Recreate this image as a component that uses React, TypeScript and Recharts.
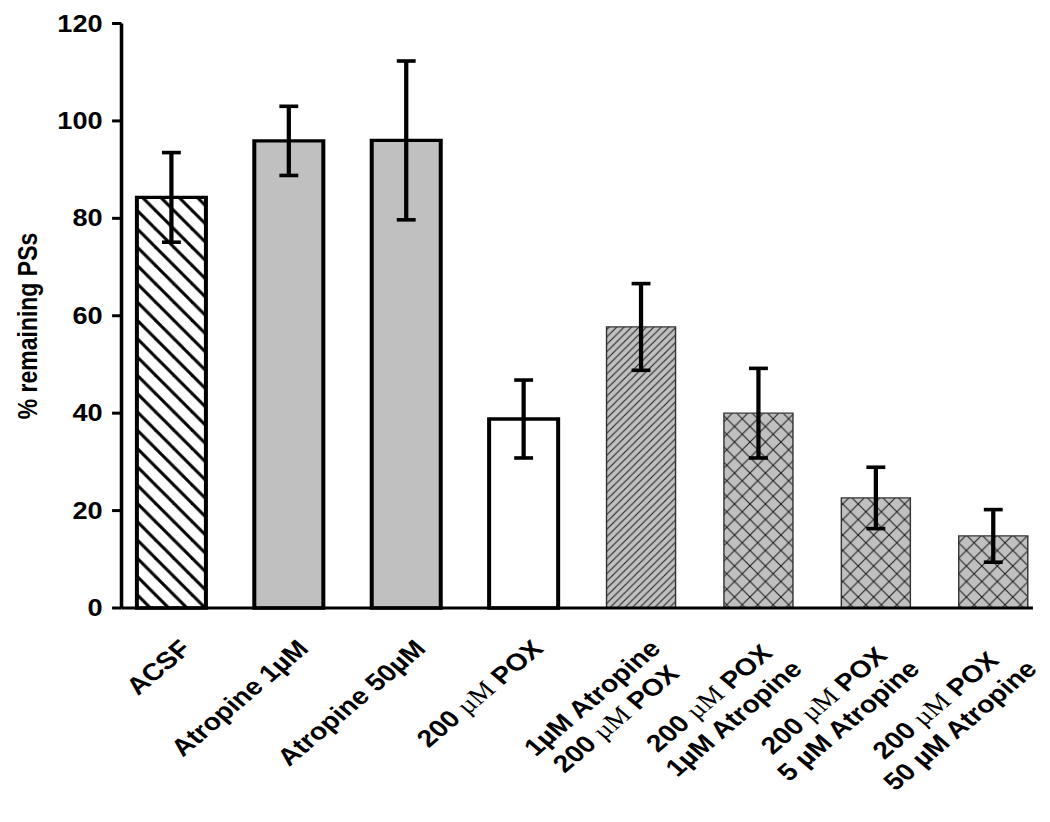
import React from 'react';
import { BarChart, Bar, XAxis, YAxis, ErrorBar, Cell } from 'recharts';

// ---- data ----
const categories: string[][] = [
  ['ACSF'],
  ['Atropine 1µM'],
  ['Atropine 50µM'],
  ['200 µM POX'],
  ['1µM Atropine', '200 µM POX'],
  ['200 µM POX', '1µM Atropine'],
  ['200 µM POX', '5 µM Atropine'],
  ['200 µM POX', '50 µM Atropine'],
];
const means = [84.3, 95.9, 96.0, 38.8, 57.7, 40.0, 22.6, 14.8];
const sems = [9.2, 7.1, 16.3, 8.0, 8.9, 9.2, 6.3, 5.4];
const yTicks = [0, 20, 40, 60, 80, 100, 120];
const xTicks = categories.map((_, i) => i);

const data = categories.map((c, i) => ({ x: i, mean: means[i], sem: sems[i] }));

// ---- styles ----
const SX = 1.18; // horizontal stretch of the original figure
const W = 880;
const H = 806;
const GRAY = '#c0c0c0';
const SANS = "'Liberation Sans', Arial, sans-serif";
const SERIF = "'Liberation Serif', 'Times New Roman', serif";
const FS = 23;
const FSX = 24;

const barStyles = [
  { fill: 'url(#hatchBack)', stroke: '#000', strokeWidth: 3.4 },
  { fill: GRAY, stroke: '#000', strokeWidth: 3.4 },
  { fill: GRAY, stroke: '#000', strokeWidth: 3.4 },
  { fill: '#fff', stroke: '#000', strokeWidth: 3.4 },
  { fill: 'url(#hatchFwd)', stroke: '#333', strokeWidth: 1.2 },
  { fill: 'url(#cross)', stroke: '#333', strokeWidth: 1.2 },
  { fill: 'url(#cross)', stroke: '#333', strokeWidth: 1.2 },
  { fill: 'url(#cross)', stroke: '#333', strokeWidth: 1.2 },
];

let ctx: CanvasRenderingContext2D | null = null;
function measure(s: string, font: string): number {
  if (!ctx && typeof document !== 'undefined') {
    ctx = document.createElement('canvas').getContext('2d');
  }
  if (!ctx) return s.length * FSX * 0.6;
  ctx.font = font;
  return ctx.measureText(s).width;
}

function splitLine(line: string) {
  // "200 µM" uses a symbol-like serif µM in the original
  if (line.startsWith('200 µM')) {
    return [
      { t: '200 ', serif: false },
      { t: 'µM', serif: true },
      { t: line.slice(6), serif: false },
    ];
  }
  return [{ t: line, serif: false }];
}

function lineWidth(line: string) {
  return splitLine(line).reduce(
    (acc, s) => acc + measure(s.t, s.serif ? `${FSX}px ${SERIF}` : `bold ${FSX}px ${SANS}`),
    0
  );
}

const XTick = (props: any) => {
  const { x, y, payload } = props;
  const lines = categories[payload.value] || [];
  const widths = lines.map(lineWidth);
  const wmax = Math.max(...widths);
  return (
    <g transform={`translate(${x},${y}) rotate(-45)`}>
      {lines.map((ln, i) => (
        <text
          key={i}
          x={-17.5 - (wmax - widths[i]) / 2}
          y={42 + 29 * i}
          textAnchor="end"
          fill="#000"
          fontSize={FSX}
          fontWeight="bold"
          fontFamily={SANS}
        >
          {splitLine(ln).map((s, k) =>
            s.serif ? (
              <tspan key={k} fontFamily={SERIF} fontWeight="normal">
                {s.t}
              </tspan>
            ) : (
              <tspan key={k}>{s.t}</tspan>
            )
          )}
        </text>
      ))}
    </g>
  );
};

const YLabel = () => (
  <text
    x={25}
    y={318}
    transform="rotate(-90 25 318)"
    textAnchor="middle"
    fill="#000"
    fontSize={FS}
    fontWeight="bold"
    fontFamily={SANS}
  >
    % remaining PSs
  </text>
);

export default function App() {
  return (
    <div style={{ width: W * SX, height: H }}>
      <div style={{ width: W, height: H, transform: `scaleX(${SX})`, transformOrigin: '0 0' }}>
        <BarChart
          width={W}
          height={H}
          data={data}
          margin={{ top: 15.5, right: 11.4, left: 0, bottom: 6 }}
        >
          <defs>
            <pattern id="hatchBack" patternUnits="userSpaceOnUse" width={15.5} height={18.3}>
              <rect width={15.5} height={18.3} fill="#fff" />
              {[-15.5, 0, 15.5].map((o) => (
                <line key={o} x1={o - 4} y1={-4.72} x2={o + 19.5} y2={23.02} stroke="#000" strokeWidth={2.8} />
              ))}
            </pattern>
            <pattern id="hatchFwd" patternUnits="userSpaceOnUse" width={6.3} height={7.4}>
              <rect width={6.3} height={7.4} fill={GRAY} />
              {[-6.3, 0, 6.3].map((o) => (
                <line key={o} x1={o - 2} y1={7.4 + 2.35} x2={o + 8.3} y2={-2.35} stroke="#222" strokeWidth={1} />
              ))}
            </pattern>
            <pattern id="cross" patternUnits="userSpaceOnUse" width={13.1} height={15.5}>
              <rect width={13.1} height={15.5} fill={GRAY} />
              {[-13.1, 0, 13.1].map((o) => (
                <g key={o}>
                  <line x1={o - 3} y1={-3.55} x2={o + 16.1} y2={19.05} stroke="#222" strokeWidth={1} />
                  <line x1={o - 3} y1={19.05} x2={o + 16.1} y2={-3.55} stroke="#222" strokeWidth={1} />
                </g>
              ))}
            </pattern>
          </defs>
          <XAxis
            type="number"
            dataKey="x"
            domain={[-0.43, 7.333]}
            ticks={xTicks}
            interval={0}
            tickLine={false}
            tickSize={0}
            tickMargin={0}
            height={200}
            axisLine={{ stroke: '#000', strokeWidth: 3 }}
            tick={<XTick />}
          />
          <YAxis
            type="number"
            domain={[0, 120]}
            ticks={yTicks}
            interval={0}
            width={96.2}
            tickSize={8}
            tickMargin={8}
            axisLine={{ stroke: '#000', strokeWidth: 3 }}
            tickLine={{ stroke: '#000', strokeWidth: 3 }}
            tick={{ fill: '#000', fontSize: FS, fontWeight: 'bold', fontFamily: SANS }}
            label={YLabel}
          />
          <Bar dataKey="mean" barSize={58.5} isAnimationActive={false}>
            {data.map((d, i) => (
              <Cell key={i} {...barStyles[i]} />
            ))}
            <ErrorBar dataKey="sem" direction="y" width={8} stroke="#000" strokeWidth={3.6} />
          </Bar>
        </BarChart>
      </div>
    </div>
  );
}
